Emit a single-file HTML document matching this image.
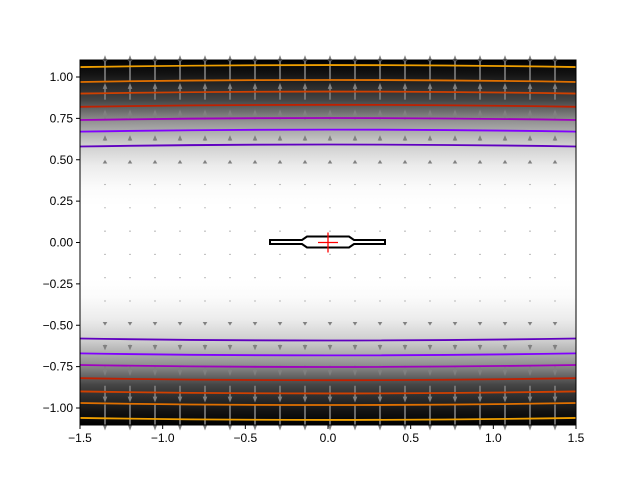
<!DOCTYPE html>
<html><head><meta charset="utf-8"><style>
body{margin:0;background:#fff}
svg text{font-family:"Liberation Sans",sans-serif;font-size:12px;fill:#000}
</style></head><body>
<svg id="s" width="640" height="480" xmlns="http://www.w3.org/2000/svg">
<defs>
<linearGradient id="g" x1="0" y1="0" x2="0" y2="1">
<stop offset="0" stop-color="#000"/>
<stop offset="0.04" stop-color="#141414"/>
<stop offset="0.11" stop-color="#454545"/>
<stop offset="0.17" stop-color="#959595"/>
<stop offset="0.23" stop-color="#cdcdcd"/>
<stop offset="0.29" stop-color="#ececec"/>
<stop offset="0.35" stop-color="#fbfbfb"/>
<stop offset="0.40" stop-color="#fff"/>
<stop offset="0.60" stop-color="#fff"/>
<stop offset="0.65" stop-color="#fbfbfb"/>
<stop offset="0.71" stop-color="#ececec"/>
<stop offset="0.77" stop-color="#cdcdcd"/>
<stop offset="0.83" stop-color="#959595"/>
<stop offset="0.89" stop-color="#454545"/>
<stop offset="0.96" stop-color="#141414"/>
<stop offset="1" stop-color="#000"/>
</linearGradient>
</defs>
<rect x="80" y="60" width="496" height="365" fill="url(#g)"/>
<g id="q"></g>
<g id="c" fill="none" stroke-width="1.8"></g>
<polygon points="270,240 302,240 307,236.5 349,236.5 354,240 385,240 385,244 354,244 349,247.5 307,247.5 302,244 270,244" fill="#fff" stroke="#000" stroke-width="2"/>
<path d="M318,242.5H338M328,232.5V252.5" stroke="red" stroke-width="1.3"/>
<rect x="80" y="60" width="496" height="365" fill="none" stroke="#000" stroke-width="1"/>
<g id="t"></g>
</svg>
<script>
var ns="http://www.w3.org/2000/svg",q=document.getElementById('q'),c=document.getElementById('c'),t=document.getElementById('t');
function el(p,tag,a){var e=document.createElementNS(ns,tag);for(var k in a)e.setAttribute(k,a[k]);p.appendChild(e);return e;}
var Y0=242.5,S=165.5;
for(var i=0;i<19;i++){var x=105+i*25;
 for(var j=0;j<16;j++){var y=68+j*23.3;var v=(Y0-y)/S;var a=Math.abs(v);
  var L=Math.pow(a,3)*22;var d=v>0?-1:1;
  if(L<1.2){el(q,'circle',{cx:x,cy:y,r:0.6,fill:'#888'});continue;}
  var y0=y-d*L/2,y1=y+d*L/2,h=Math.min(6,L*0.6+2);
  el(q,'line',{x1:x,y1:y0,x2:x,y2:y1-d*h*0.6,stroke:'#808080','stroke-width':1.6});
  el(q,'polygon',{points:x+','+y1+' '+(x-2.3)+','+(y1-d*h)+' '+(x+2.3)+','+(y1-d*h),fill:'#808080'});
 }}
var lv=[[1.06,'#f0a000'],[0.97,'#e07000'],[0.90,'#d04000'],[0.82,'#c02000'],[0.74,'#a000c0'],[0.67,'#8000ff'],[0.58,'#6000c0']];
lv.forEach(function(l){[1,-1].forEach(function(s){
 var yl=Y0-s*l[0]*S,ym=yl-s*2;
 el(c,'path',{d:'M80,'+yl+' Q328,'+(2*ym-yl)+' 576,'+yl,stroke:l[1]});});});
for(var k=0;k<7;k++){var v=-1.5+k*0.5,x=80+k*496/6;
 el(t,'line',{x1:x,y1:425,x2:x,y2:429,stroke:'#000'});
 var e=el(t,'text',{x:x,y:442,'text-anchor':'middle'});e.textContent=(v<0?'\u2212':'')+Math.abs(v).toFixed(1);}
for(var k=0;k<9;k++){var v=-1+k*0.25,y=Y0-v*S;
 el(t,'line',{x1:76,y1:y,x2:80,y2:y,stroke:'#000'});
 var e=el(t,'text',{x:73,y:y+4,'text-anchor':'end'});e.textContent=(v<0?'\u2212':'')+Math.abs(v).toFixed(2);}
</script>
</body></html>
